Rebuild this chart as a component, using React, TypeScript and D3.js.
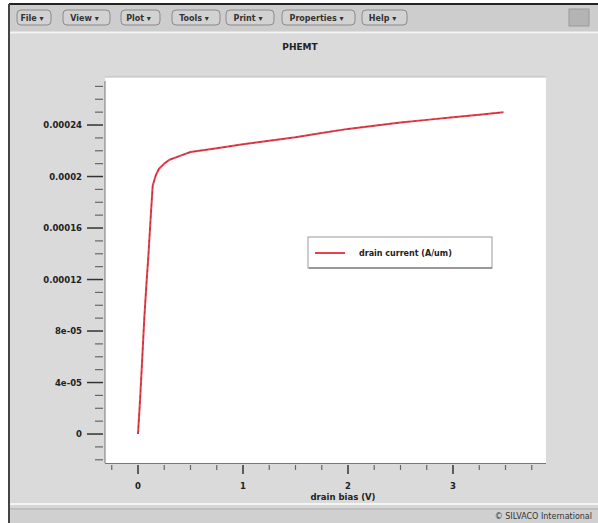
import React from "react";
import * as d3 from "d3";

// Drain sweep of the PHEMT: bias (V) and drain current (A/um)
const drainBias = [0, 0.02, 0.04, 0.06, 0.08, 0.1, 0.12, 0.14, 0.17, 0.2, 0.25, 0.3, 0.4, 0.5, 0.75, 1.0, 1.25, 1.5, 1.75, 2.0, 2.25, 2.5, 2.75, 3.0, 3.25, 3.48];
const drainCurrent = [0, 2.7e-5, 5.8e-5, 9.0e-5, 1.16e-4, 1.4e-4, 1.67e-4, 1.93e-4, 2.01e-4, 2.06e-4, 2.1e-4, 2.13e-4, 2.16e-4, 2.19e-4, 2.22e-4, 2.25e-4, 2.278e-4, 2.305e-4, 2.338e-4, 2.37e-4, 2.395e-4, 2.42e-4, 2.44e-4, 2.46e-4, 2.48e-4, 2.5e-4];

const xMajor = [0, 1, 2, 3];
const xMajorLabels = ["0", "1", "2", "3"];
const yMajor = [0, 4e-5, 8e-5, 1.2e-4, 1.6e-4, 2e-4, 2.4e-4];
const yMajorLabels = ["0", "4e-05", "8e-05", "0.00012", "0.00016", "0.0002", "0.00024"];

const menuItems = ["File", "View", "Plot", "Tools", "Print", "Properties", "Help"];
const menuX = [17, 63, 121, 172, 226, 282, 362];
const menuW = [34, 47, 39, 48, 48, 73, 45];

const chartTitle = "PHEMT";
const xTitle = "drain bias (V)";
const legendLabel = "drain current (A/um)";
const footer = "\u00a9 SILVACO International";

const W = 598;
const H = 523;
const plot = { left: 105, right: 546, top: 77, bottom: 463 };

const font = "'DejaVu Sans', Verdana, sans-serif";

export default function App() {
  const x = d3.scaleLinear().domain([-0.3143, 3.8857]).range([plot.left, plot.right]);
  const y = d3.scaleLinear().domain([-2.25e-5, 2.773e-4]).range([plot.bottom, plot.top]);

  const xMinor = d3.range(-0.25, 3.8, 0.25).filter((v) => Math.abs(v - Math.round(v)) > 1e-6);
  const yMinor = d3.range(-2e-5, 2.75e-4, 1e-5).filter((v) => Math.abs(v / 4e-5 - Math.round(v / 4e-5)) > 1e-6);

  const pts: [number, number][] = drainBias.map((v, i) => [v, drainCurrent[i]]);
  const line = d3
    .line<[number, number]>()
    .x((d) => x(d[0]))
    .y((d) => y(d[1]));
  const path = line(pts) || "";

  const axisY = plot.bottom;
  const axisX = plot.left;

  return (
    <svg
      width={W}
      height={H}
      viewBox={`0 0 ${W} ${H}`}
      style={{ position: "absolute", left: 0, top: 0, display: "block" }}
      fontFamily={font}
    >
      {/* page background */}
      <rect x={0} y={0} width={W} height={H} fill="#ffffff" />
      {/* window frame */}
      <rect x={9} y={4} width={W - 9} height={H - 4} fill="#d6d6d6" />
      <line x1={9} y1={4} x2={W} y2={4} stroke="#222" strokeWidth={2} />
      <line x1={9} y1={4} x2={9} y2={H} stroke="#444" strokeWidth={2} />

      {/* menu bar */}
      <rect x={10} y={5} width={W - 10} height={27} fill="#cdcdcd" />
      {menuItems.map((m, i) => (
        <g key={m}>
          <rect
            x={menuX[i]}
            y={10}
            width={menuW[i]}
            height={15}
            rx={4}
            fill="#d2d2d2"
            stroke="#8a8a8a"
            strokeWidth={1}
          />
          <text
            x={menuX[i] + menuW[i] / 2 - 2}
            y={20.5}
            fontSize={8}
            fontWeight="bold"
            textAnchor="middle"
            fill="#333"
          >
            {m + " \u25BE"}
          </text>
        </g>
      ))}
      <rect x={569} y={9} width={20} height={17} fill="#b4b4b4" stroke="#9a9a9a" />
      <line x1={10} y1={32.5} x2={W} y2={32.5} stroke="#f4f4f4" strokeWidth={2} />

      {/* panel */}
      <rect x={10} y={34} width={W - 10} height={469} fill="#dadada" />

      {/* title */}
      <text x={300} y={50} fontSize={9} fontWeight="bold" textAnchor="middle" fill="#222">
        {chartTitle}
      </text>

      {/* plot area */}
      <rect
        x={plot.left}
        y={plot.top}
        width={plot.right - plot.left}
        height={plot.bottom - plot.top}
        fill="#ffffff"
      />
      <line x1={plot.left} y1={plot.top} x2={plot.right} y2={plot.top} stroke="#bbbbbb" />

      {/* y axis */}
      <line x1={axisX} y1={plot.top + 4} x2={axisX} y2={axisY} stroke="#777" strokeWidth={1} />
      {yMinor.map((v) => (
        <line key={"ym" + v} x1={95} x2={103} y1={y(v)} y2={y(v)} stroke="#666" strokeWidth={1.2} />
      ))}
      {yMajor.map((v, i) => (
        <g key={"yM" + v}>
          <line x1={87} x2={103} y1={y(v)} y2={y(v)} stroke="#333" strokeWidth={1.5} />
          <text x={82} y={y(v) + 3} fontSize={8.5} fontWeight="bold" textAnchor="end" fill="#222">
            {yMajorLabels[i]}
          </text>
        </g>
      ))}

      {/* x axis */}
      <line x1={axisX} y1={axisY + 0.5} x2={plot.right} y2={axisY + 0.5} stroke="#777" strokeWidth={1} />
      {xMinor.map((v) => (
        <line key={"xm" + v} x1={x(v)} x2={x(v)} y1={465} y2={470} stroke="#666" strokeWidth={1.2} />
      ))}
      {xMajor.map((v, i) => (
        <g key={"xM" + v}>
          <line x1={x(v)} x2={x(v)} y1={465} y2={474} stroke="#333" strokeWidth={1.5} />
          <text x={x(v)} y={489} fontSize={8.5} fontWeight="bold" textAnchor="middle" fill="#222">
            {xMajorLabels[i]}
          </text>
        </g>
      ))}
      <text x={343} y={500} fontSize={8.5} fontWeight="bold" textAnchor="middle" fill="#222">
        {xTitle}
      </text>

      {/* curve */}
      <path d={path} fill="none" stroke="#e8404c" strokeWidth={2} strokeLinejoin="round" />
      <path d={path} fill="none" stroke="#7a2a34" strokeWidth={0.8} strokeDasharray="3 3" opacity={0.7} />

      {/* legend */}
      <rect x={308} y={237} width={184} height={31} fill="#ffffff" stroke="#9a9a9a" strokeWidth={1} />
      <line x1={309} y1={268} x2={492} y2={268} stroke="#666" strokeWidth={1.2} />
      <line x1={315} x2={345} y1={253} y2={253} stroke="#e8404c" strokeWidth={2} />
      <text x={359} y={256} fontSize={8} fontWeight="bold" fill="#222">
        {legendLabel}
      </text>

      {/* status bar */}
      <line x1={10} y1={504} x2={W} y2={504} stroke="#f4f4f4" strokeWidth={2} />
      <line x1={10} y1={509} x2={W} y2={509} stroke="#a8a8a8" strokeWidth={1} />
      <rect x={10} y={510} width={W - 10} height={13} fill="#d0d0d0" />
      <text x={592} y={519} fontSize={8} textAnchor="end" fill="#333">
        {footer}
      </text>
    </svg>
  );
}
